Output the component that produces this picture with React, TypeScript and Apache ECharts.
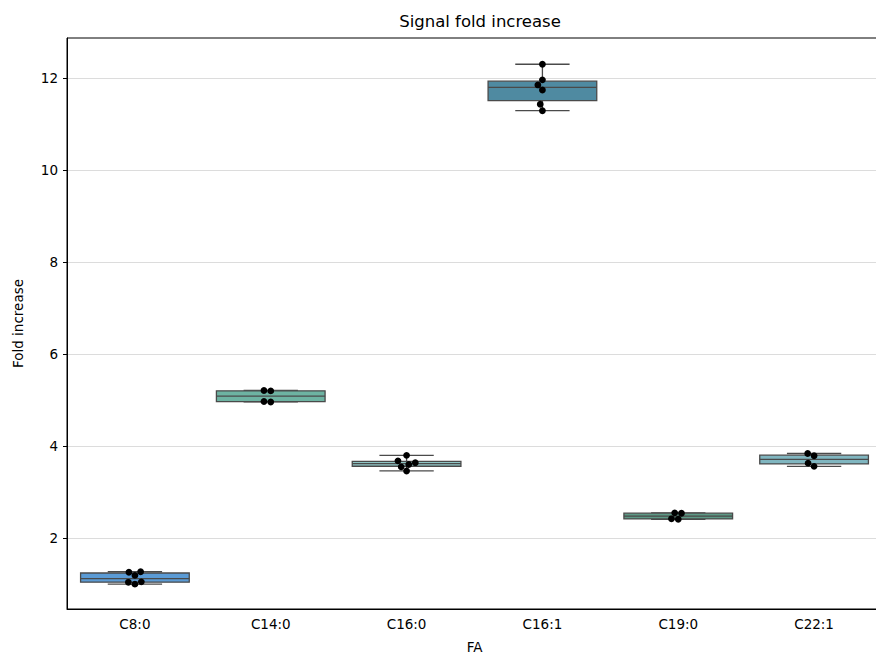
import React, { useEffect, useRef } from "react";
import * as echarts from "echarts";

const categories = ["C8:0", "C14:0", "C16:0", "C16:1", "C19:0", "C22:1"];
const valuesC8_0 = [1.0, 1.04, 1.05, 1.19, 1.26, 1.27];
const valuesC14_0 = [4.96, 4.97, 5.2, 5.21];
const valuesC16_0 = [3.46, 3.55, 3.6, 3.64, 3.68, 3.8];
const valuesC16_1 = [11.29, 11.43, 11.74, 11.85, 11.96, 12.3];
const valuesC19_0 = [2.41, 2.42, 2.54, 2.55];
const valuesC22_1 = [3.56, 3.63, 3.79, 3.84];
const seriesValues = [valuesC8_0, valuesC14_0, valuesC16_0, valuesC16_1, valuesC19_0, valuesC22_1];
const boxColors = ["#5b9bd5", "#6db3a2", "#8ec5c4", "#4f8aa1", "#5d9985", "#80b6c0"];
const yTicks = [2, 4, 6, 8, 10, 12];
const yMin = 0.46;
const yMax = 12.87;

const FONT = "DejaVu Sans";

function quantile(sorted: number[], q: number) {
  const pos = (sorted.length - 1) * q;
  const lo = Math.floor(pos);
  const hi = Math.ceil(pos);
  return sorted[lo] + (sorted[hi] - sorted[lo]) * (pos - lo);
}

function boxStats(vals: number[]) {
  const s = [...vals].sort((a, b) => a - b);
  const q1 = quantile(s, 0.25);
  const med = quantile(s, 0.5);
  const q3 = quantile(s, 0.75);
  const iqr = q3 - q1;
  const lo = Math.min(...s.filter((v) => v >= q1 - 1.5 * iqr));
  const hi = Math.max(...s.filter((v) => v <= q3 + 1.5 * iqr));
  return { q1, med, q3, lo, hi };
}

function swarm(ys: number[], d: number) {
  const idx = ys.map((_, i) => i).sort((a, b) => ys[b] - ys[a]);
  const placed: { x: number; y: number }[] = [];
  const out = new Array(ys.length).fill(0);
  for (const i of idx) {
    const y = ys[i];
    const cands = [0];
    for (const p of placed) {
      const dy = Math.abs(p.y - y);
      if (dy < d) {
        const dx = Math.sqrt(d * d - dy * dy);
        cands.push(p.x - dx, p.x + dx);
      }
    }
    cands.sort((a, b) => Math.abs(a) - Math.abs(b) || a - b);
    let chosen = 0;
    for (const c of cands) {
      const ok = placed.every((p) => (p.x - c) ** 2 + (p.y - y) ** 2 >= d * d - 0.01);
      if (ok) {
        chosen = c;
        break;
      }
    }
    placed.push({ x: chosen, y });
    out[i] = chosen;
  }
  return out;
}

export default function App() {
  const ref = useRef<HTMLDivElement>(null);
  useEffect(() => {
    if (!ref.current) return;
    const chart = echarts.init(ref.current, undefined, { renderer: "svg" });
    const edge = "#4a4a4a";
    const option: any = {
      animation: false,
      backgroundColor: "#ffffff",
      title: {
        text: "Signal fold increase",
        left: 475,
        top: 8,
        textAlign: "center",
        textStyle: { fontFamily: FONT, fontSize: 16.5, fontWeight: "normal", color: "#000" },
      },
      grid: {
        left: 67,
        top: 38,
        width: 815,
        height: 571,
        outerBoundsMode: "none",
        containLabel: false,
        show: true,
        borderColor: "#000",
        borderWidth: 1,
        backgroundColor: "transparent",
      },
      xAxis: {
        type: "category",
        data: categories,
        boundaryGap: true,
        name: "FA",
        nameLocation: "middle",
        nameGap: 31,
        nameTextStyle: { fontFamily: FONT, fontSize: 13.5, color: "#000" },
        axisLine: { lineStyle: { color: "#000", width: 1 } },
        axisTick: { alignWithLabel: true, length: 4, lineStyle: { color: "#000" } },
        axisLabel: { fontFamily: FONT, fontSize: 13.5, color: "#000", margin: 8 },
        splitLine: { show: false },
      },
      yAxis: {
        type: "value",
        min: yMin,
        max: yMax,
        name: "Fold increase",
        nameLocation: "middle",
        nameRotate: 90,
        nameGap: 42,
        nameTextStyle: { fontFamily: FONT, fontSize: 13.5, color: "#000" },
        axisLine: { show: true, lineStyle: { color: "#000", width: 1 } },
        axisTick: { show: true, length: 4, lineStyle: { color: "#000" }, customValues: yTicks },
        axisLabel: { fontFamily: FONT, fontSize: 13.5, color: "#000", margin: 9, customValues: yTicks },
        splitLine: { show: true, lineStyle: { color: "#dcdcdc", width: 1 } },
      },
      series: [
        {
          type: "custom",
          data: categories.map((_, i) => [i, boxStats(seriesValues[i]).med]),
          encode: { x: 0, y: 1 },
          z: 2,
          renderItem: (params: any, api: any) => {
            const i = params.dataIndex;
            const st = boxStats(seriesValues[i]);
            const band = api.size([1, 0])[0];
            const w = band * 0.8;
            const cx = api.coord([i, st.med])[0];
            const yq1 = api.coord([i, st.q1])[1];
            const yq3 = api.coord([i, st.q3])[1];
            const ymed = api.coord([i, st.med])[1];
            const ylo = api.coord([i, st.lo])[1];
            const yhi = api.coord([i, st.hi])[1];
            const line = { stroke: edge, lineWidth: 1.3 };
            return {
              type: "group",
              children: [
                { type: "line", shape: { x1: cx, y1: yq3, x2: cx, y2: yhi }, style: line },
                { type: "line", shape: { x1: cx, y1: yq1, x2: cx, y2: ylo }, style: line },
                { type: "line", shape: { x1: cx - w / 4, y1: yhi, x2: cx + w / 4, y2: yhi }, style: line },
                { type: "line", shape: { x1: cx - w / 4, y1: ylo, x2: cx + w / 4, y2: ylo }, style: line },
                {
                  type: "rect",
                  shape: { x: cx - w / 2, y: yq3, width: w, height: yq1 - yq3 },
                  style: { fill: boxColors[i], stroke: edge, lineWidth: 1.3 },
                },
                { type: "line", shape: { x1: cx - w / 2, y1: ymed, x2: cx + w / 2, y2: ymed }, style: line },
              ],
            };
          },
        },
        {
          type: "custom",
          data: categories.map((_, i) => [i, boxStats(seriesValues[i]).med]),
          encode: { x: 0, y: 1 },
          z: 3,
          renderItem: (params: any, api: any) => {
            const i = params.dataIndex;
            const vals = seriesValues[i];
            const cx = api.coord([i, vals[0]])[0];
            const ys = vals.map((v) => api.coord([i, v])[1]);
            const r = 3.4;
            const offs = swarm(ys, 2 * r);
            return {
              type: "group",
              children: ys.map((y, k) => ({
                type: "circle",
                shape: { cx: cx + offs[k], cy: y, r },
                style: { fill: "#000" },
              })),
            };
          },
        },
      ],
    };
    chart.setOption(option);
    return () => chart.dispose();
  }, []);
  return (
    <div
      ref={ref}
      style={{ position: "absolute", left: 0, top: 0, width: 876, height: 654, background: "#fff" }}
    />
  );
}
